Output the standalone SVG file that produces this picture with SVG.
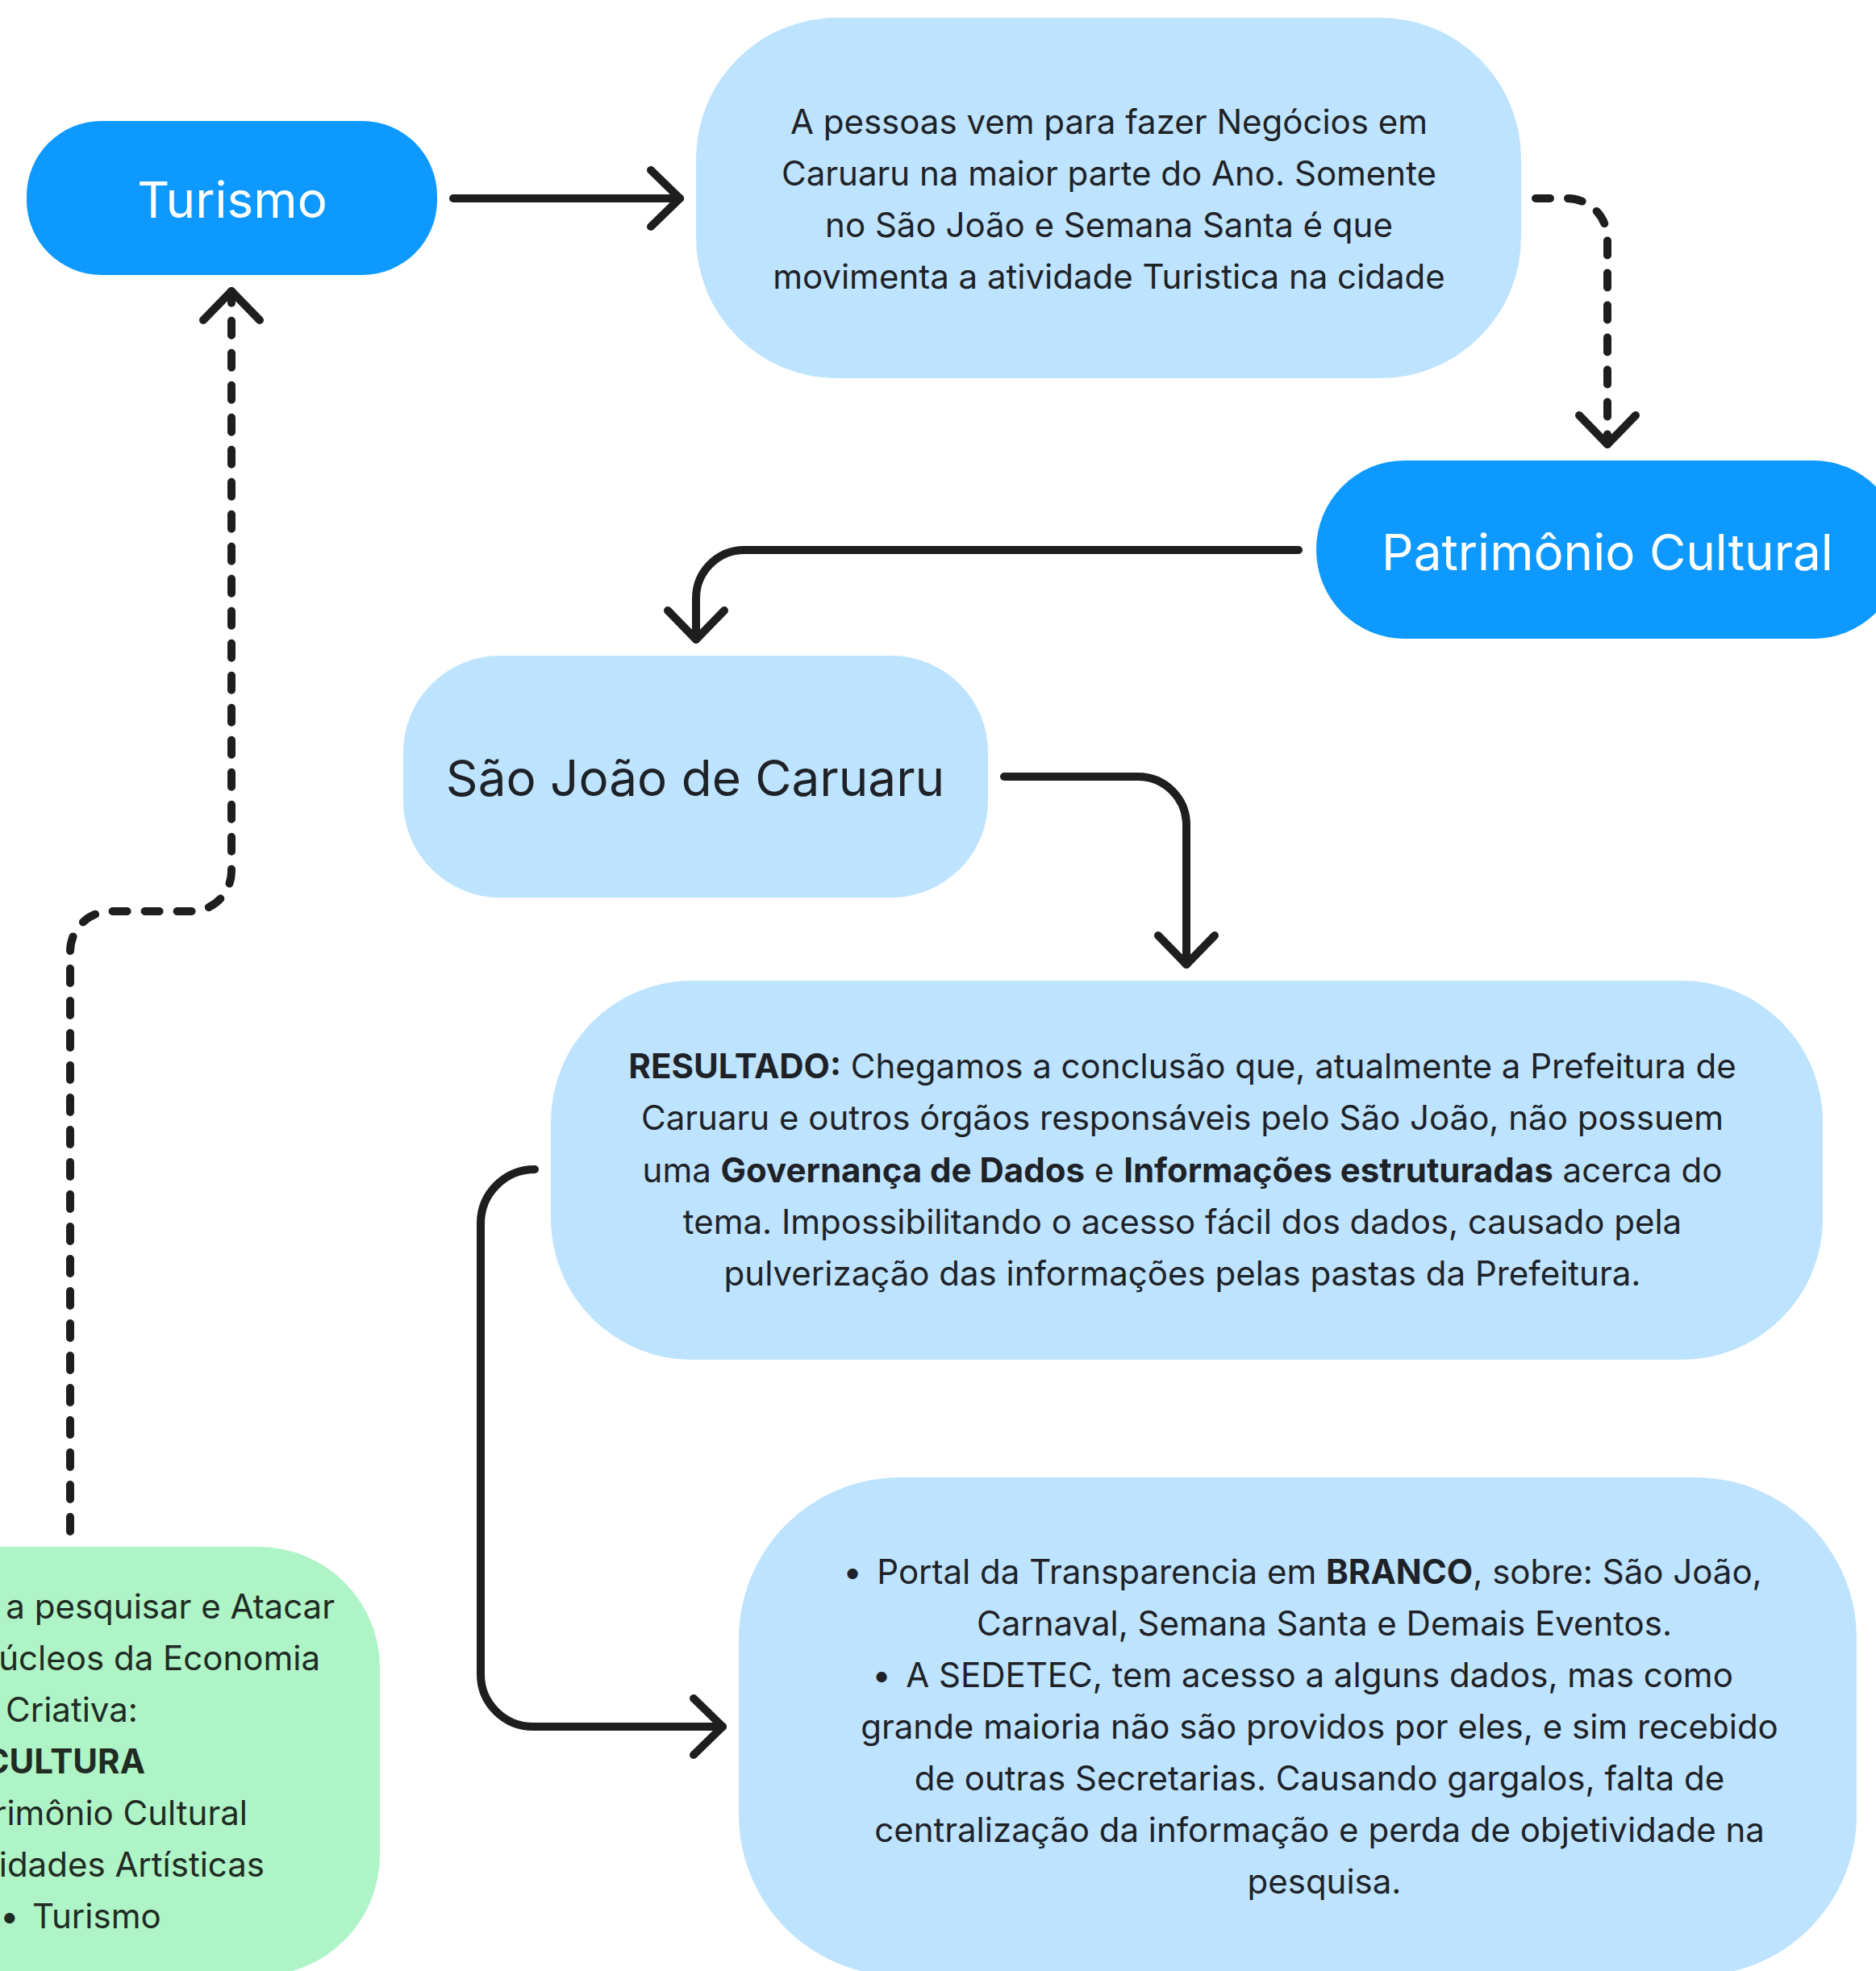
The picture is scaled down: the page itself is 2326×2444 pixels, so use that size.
<svg xmlns="http://www.w3.org/2000/svg" width="2326" height="2444" viewBox="0 0 2326 2444">
<defs>
<style>
.dark{fill:#0D99FF}
.light{fill:#BDE3FF}
.green{fill:#AFF4C6}
.lbl{font-family:Inter,"Liberation Sans",sans-serif;font-size:62px;text-anchor:middle}
.w{fill:#FFFFFF}
.t{font-family:Inter,"Liberation Sans",sans-serif;font-size:42px;fill:#1E2227;text-anchor:middle}
.g{font-family:Inter,"Liberation Sans",sans-serif;font-size:42px;fill:#1F2B23}
.b{font-weight:700}
.con{fill:none;stroke:#1E1E1E;stroke-width:10;stroke-linecap:round;stroke-linejoin:round}
.dash{stroke-dasharray:18 22}
</style>
<marker id="ah" markerUnits="userSpaceOnUse" viewBox="-50 -50 60 100" refX="0" refY="0" markerWidth="60" markerHeight="100" orient="auto" overflow="visible">
<path d="M-36,-35 L0,0 L-36,35" fill="none" stroke="#1E1E1E" stroke-width="10" stroke-linecap="round" stroke-linejoin="round"/>
</marker>
</defs>
<rect width="2326" height="2444" fill="#FFFFFF"/>

<g id="connectors">
<path class="con" d="M562,246 L843,246" marker-end="url(#ah)"/>
<path class="con dash" d="M1904,246 L1943,246 A50,50 0 0 1 1993,296 L1993,551" marker-end="url(#ah)"/>
<path class="con" d="M1610,682 L923,682 A60,60 0 0 0 863,742 L863,793" marker-end="url(#ah)"/>
<path class="con" d="M1245,963 L1411,963 A60,60 0 0 1 1471,1023 L1471,1196" marker-end="url(#ah)"/>
<path class="con" d="M663,1450 A67,67 0 0 0 596,1517 L596,2076 A65,65 0 0 0 661,2141 L896,2141" marker-end="url(#ah)"/>
<path class="con dash" d="M87,1899 L87,1180 A50,50 0 0 1 137,1130 L237,1130 A50,50 0 0 0 287,1080 L287,361" marker-end="url(#ah)"/>
</g>

<g id="turismo">
<rect class="dark" x="33" y="150" width="509" height="191" rx="93" ry="93"/>
<text class="lbl w" x="288" y="270" font-size="63">Turismo</text>
</g>

<g id="negocios">
<rect class="light" x="863" y="22" width="1023" height="447" rx="175" ry="175"/>
<text class="t" x="1375" y="166">A pessoas vem para fazer Negócios em</text>
<text class="t" x="1375" y="230">Caruaru na maior parte do Ano. Somente</text>
<text class="t" x="1375" y="294">no São João e Semana Santa é que</text>
<text class="t" x="1375" y="358">movimenta a atividade Turistica na cidade</text>
</g>

<g id="patrimonio">
<rect class="dark" x="1632" y="571" width="726" height="221" rx="110" ry="110"/>
<text class="lbl w" x="1993" y="707">Patrimônio Cultural</text>
</g>

<g id="saojoao">
<rect class="light" x="500" y="813" width="725" height="300" rx="120" ry="120"/>
<text class="lbl" x="862" y="987" fill="#1E2227">São João de Caruaru</text>
</g>

<g id="resultado">
<rect class="light" x="683" y="1216" width="1577" height="470" rx="175" ry="175"/>
<text class="t" x="1466" y="1337"><tspan class="b">RESULTADO:</tspan> Chegamos a conclusão que, atualmente a Prefeitura de</text>
<text class="t" x="1466" y="1401">Caruaru e outros órgãos responsáveis pelo São João, não possuem</text>
<text class="t" x="1466" y="1466">uma <tspan class="b">Governança de Dados</tspan> e <tspan class="b">Informações estruturadas</tspan> acerca do</text>
<text class="t" x="1466" y="1530">tema. Impossibilitando o acesso fácil dos dados, causado pela</text>
<text class="t" x="1466" y="1594">pulverização das informações pelas pastas da Prefeitura.</text>
</g>

<g id="portal">
<rect class="light" x="916" y="1832" width="1386" height="618" rx="200" ry="200"/>
<text class="t" x="1057" y="1964">•</text>
<text class="t" x="1636" y="1964">Portal da Transparencia em <tspan class="b">BRANCO</tspan>, sobre: São João,</text>
<text class="t" x="1642" y="2028">Carnaval, Semana Santa e Demais Eventos.</text>
<text class="t" x="1093" y="2092">•</text>
<text class="t" x="1636" y="2092">A SEDETEC, tem acesso a alguns dados, mas como</text>
<text class="t" x="1636" y="2156">grande maioria não são providos por eles, e sim recebido</text>
<text class="t" x="1636" y="2220">de outras Secretarias. Causando gargalos, falta de</text>
<text class="t" x="1636" y="2284">centralização da informação e perda de objetividade na</text>
<text class="t" x="1642" y="2348">pesquisa.</text>
</g>

<g id="economia">
<rect class="green" x="-400" y="1918" width="871" height="532" rx="150" ry="150"/>
<text class="g" x="415" y="2007" text-anchor="end">a pesquisar e Atacar</text>
<text class="g" x="397" y="2071" text-anchor="end">úcleos da Economia</text>
<text class="g" x="7" y="2135">Criativa:</text>
<text class="g b" x="180" y="2199" text-anchor="end">CULTURA</text>
<text class="g" x="307" y="2263" text-anchor="end">rimônio Cultural</text>
<text class="g" x="328" y="2327" text-anchor="end">idades Artísticas</text>
<text class="g" x="0" y="2391">•</text>
<text class="g" x="40" y="2391">Turismo</text>
</g>
</svg>
